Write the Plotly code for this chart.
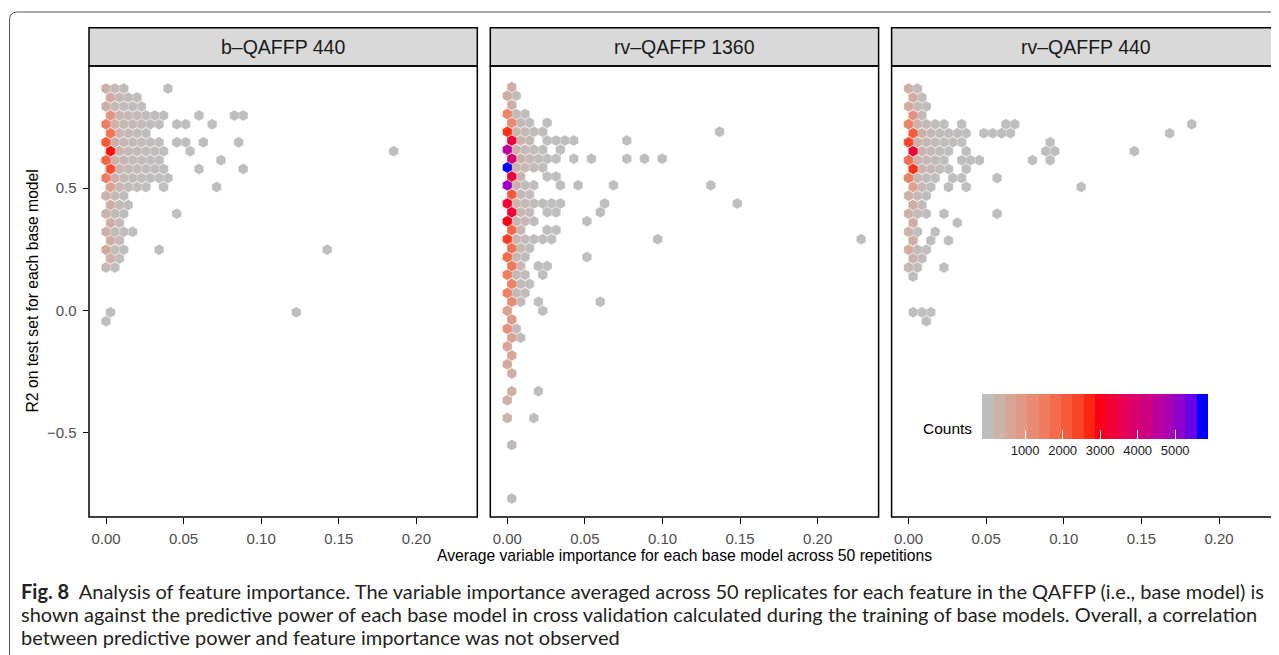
import plotly.graph_objects as go

W, H = 1279, 655
PAGE_OFF = 8          # default page body margin of the html page
FIG_W, FIG_H = W - PAGE_OFF, H - PAGE_OFF

# ---------------- data (hexbin cells: centre x, centre y, count) ----------------
PANELS = ["b\u2013QAFFP 440", "rv\u2013QAFFP 1360", "rv\u2013QAFFP 440"]

P1_Y = [0.907, 0.870, 0.834, 0.797, 0.761, 0.724, 0.687, 0.651, 0.614, 0.578, 0.541, 0.504,
        0.468, 0.431, 0.395, 0.358, 0.321, 0.285, 0.248, 0.212, 0.175, -0.008, -0.045]
P1_X = [
    [0.0, 0.0057, 0.0114, 0.0399],
    [0.0029, 0.0086, 0.0143, 0.0200],
    [0.0, 0.0057, 0.0114, 0.0171, 0.0228],
    [0.0029, 0.0086, 0.0143, 0.0200, 0.0257, 0.0314, 0.0371, 0.0599, 0.0827, 0.0884],
    [0.0, 0.0057, 0.0114, 0.0171, 0.0228, 0.0285, 0.0342, 0.0456, 0.0513, 0.0684],
    [0.0029, 0.0086, 0.0143, 0.0200, 0.0257],
    [0.0, 0.0057, 0.0114, 0.0171, 0.0228, 0.0285, 0.0342, 0.0456, 0.0513, 0.0627, 0.0855],
    [0.0029, 0.0086, 0.0143, 0.0200, 0.0257, 0.0314, 0.0371, 0.0542, 0.1853],
    [0.0, 0.0057, 0.0114, 0.0171, 0.0228, 0.0285, 0.0342, 0.0741],
    [0.0029, 0.0086, 0.0143, 0.0200, 0.0257, 0.0314, 0.0371, 0.0599, 0.0884],
    [0.0, 0.0057, 0.0114, 0.0171, 0.0228, 0.0285, 0.0342, 0.0399],
    [0.0029, 0.0086, 0.0143, 0.0200, 0.0257, 0.0371, 0.0713],
    [0.0, 0.0057, 0.0114],
    [0.0029, 0.0086, 0.0143],
    [0.0, 0.0057, 0.0114, 0.0456],
    [0.0029, 0.0086],
    [0.0, 0.0057, 0.0114, 0.0171],
    [0.0029, 0.0086],
    [0.0, 0.0057, 0.0114, 0.0342, 0.1425],
    [0.0029, 0.0086],
    [0.0, 0.0057],
    [0.0029, 0.1226],
    [0.0],
]
P1_N = [
    [320, 90, 40, 2],
    [450, 90, 60, 25],
    [380, 120, 70, 40, 15],
    [1000, 200, 110, 70, 40, 20, 10, 2, 2, 1],
    [1450, 320, 150, 90, 60, 30, 15, 3, 2, 1],
    [1650, 200, 130, 80, 40],
    [2150, 350, 160, 100, 60, 35, 20, 3, 2, 1, 1],
    [2800, 250, 150, 90, 60, 30, 15, 2, 1],
    [1950, 330, 160, 100, 60, 35, 15, 1],
    [2300, 230, 140, 80, 50, 30, 15, 2, 1],
    [1500, 300, 140, 90, 50, 30, 15, 5],
    [700, 150, 80, 40, 20, 3, 1],
    [320, 100, 40],
    [420, 80, 30],
    [330, 90, 30, 1],
    [400, 60],
    [300, 80, 30, 5],
    [420, 60],
    [520, 70, 30, 2, 1],
    [320, 40],
    [150, 30],
    [20, 1],
    [15],
]

P2_Y = [0.913, 0.877, 0.840, 0.803, 0.767, 0.730, 0.694, 0.657, 0.620, 0.584, 0.547, 0.511,
        0.474, 0.437, 0.401, 0.364, 0.328, 0.291, 0.254, 0.218, 0.181, 0.145, 0.108, 0.071,
        0.035, -0.002, -0.038, -0.075, -0.112, -0.148, -0.185, -0.221, -0.258, -0.331,
        -0.368, -0.441, -0.551, -0.770]
P2_X = [
    [0.0029],
    [0.0, 0.0057],
    [0.0029],
    [0.0, 0.0057, 0.0114],
    [0.0029, 0.0086, 0.0143, 0.0257],
    [0.0, 0.0057, 0.0114, 0.0171, 0.0228, 0.1368],
    [0.0029, 0.0086, 0.0143, 0.0257, 0.0314, 0.0371, 0.0428, 0.0770],
    [0.0, 0.0057, 0.0114, 0.0171, 0.0228, 0.0342],
    [0.0029, 0.0086, 0.0143, 0.0200, 0.0257, 0.0314, 0.0428, 0.0542, 0.0770, 0.0884, 0.0998],
    [0.0, 0.0057, 0.0114, 0.0171, 0.0228],
    [0.0029, 0.0086, 0.0257, 0.0314],
    [0.0, 0.0057, 0.0114, 0.0171, 0.0342, 0.0456, 0.0684, 0.1311],
    [0.0029, 0.0086, 0.0143],
    [0.0, 0.0057, 0.0114, 0.0171, 0.0228, 0.0285, 0.0342, 0.0627, 0.1482],
    [0.0029, 0.0086, 0.0143, 0.0257, 0.0314, 0.0599],
    [0.0, 0.0057, 0.0114, 0.0171, 0.0513],
    [0.0029, 0.0086, 0.0257, 0.0314],
    [0.0, 0.0057, 0.0114, 0.0171, 0.0228, 0.0285, 0.0969, 0.2280],
    [0.0029, 0.0086, 0.0143],
    [0.0, 0.0057, 0.0114, 0.0513],
    [0.0029, 0.0086, 0.0200, 0.0257],
    [0.0, 0.0057, 0.0114, 0.0228],
    [0.0029, 0.0086, 0.0143],
    [0.0, 0.0057, 0.0114],
    [0.0029, 0.0086, 0.0200, 0.0599],
    [0.0, 0.0228],
    [0.0029],
    [0.0, 0.0057],
    [0.0029, 0.0086],
    [0.0],
    [0.0029],
    [0.0],
    [0.0029],
    [0.0029, 0.0200],
    [0.0],
    [0.0, 0.0171],
    [0.0029],
    [0.0029],
]
P2_N = [
    [350],
    [400, 80],
    [350],
    [1300, 150, 60],
    [1200, 120, 50, 5],
    [2600, 250, 120, 60, 20, 1],
    [3300, 250, 100, 20, 8, 4, 2, 1],
    [4600, 300, 150, 70, 30, 5],
    [4000, 280, 130, 60, 30, 10, 3, 2, 1, 1, 1],
    [5726, 320, 140, 70, 25],
    [3300, 220, 10, 5],
    [5000, 280, 120, 50, 4, 2, 1, 1],
    [2100, 180, 70],
    [3200, 250, 120, 60, 30, 15, 6, 1, 1],
    [3300, 200, 80, 15, 6, 1],
    [3000, 220, 100, 40, 2],
    [1900, 160, 10, 5],
    [2500, 220, 100, 50, 20, 8, 1, 1],
    [1700, 150, 60],
    [1800, 160, 70, 1],
    [1600, 120, 10, 5],
    [1500, 120, 50, 5],
    [1400, 100, 40],
    [1400, 100, 40],
    [1200, 80, 5, 1],
    [700, 3],
    [900],
    [1100, 60],
    [700, 40],
    [600],
    [600],
    [500],
    [400],
    [350, 2],
    [300],
    [250, 2],
    [100],
    [50],
]

P3_Y = [0.907, 0.870, 0.834, 0.797, 0.761, 0.724, 0.687, 0.651, 0.614, 0.578, 0.541, 0.504,
        0.468, 0.431, 0.395, 0.358, 0.321, 0.285, 0.248, 0.212, 0.175, 0.138, -0.008, -0.045]
P3_X = [
    [0.0, 0.0057],
    [0.0029, 0.0086],
    [0.0, 0.0057, 0.0114],
    [0.0029, 0.0086],
    [0.0, 0.0057, 0.0114, 0.0171, 0.0228, 0.0342, 0.0627, 0.0684, 0.1824],
    [0.0029, 0.0086, 0.0143, 0.0200, 0.0257, 0.0314, 0.0371, 0.0485, 0.0542, 0.0599, 0.0656, 0.1682],
    [0.0, 0.0057, 0.0114, 0.0171, 0.0228, 0.0285, 0.0342, 0.0912],
    [0.0029, 0.0086, 0.0143, 0.0200, 0.0257, 0.0371, 0.0884, 0.0941, 0.1454],
    [0.0, 0.0057, 0.0114, 0.0171, 0.0228, 0.0342, 0.0399, 0.0456, 0.0798, 0.0912],
    [0.0029, 0.0086, 0.0143, 0.0200, 0.0257, 0.0371],
    [0.0, 0.0057, 0.0114, 0.0171, 0.0285, 0.0342, 0.0570],
    [0.0029, 0.0086, 0.0143, 0.0257, 0.0371, 0.1112],
    [0.0, 0.0057, 0.0114],
    [0.0029, 0.0086],
    [0.0, 0.0057, 0.0114, 0.0228, 0.0570],
    [0.0029, 0.0314],
    [0.0, 0.0057, 0.0171],
    [0.0029, 0.0143, 0.0257],
    [0.0, 0.0057, 0.0114],
    [0.0029, 0.0086],
    [0.0, 0.0057, 0.0228],
    [0.0029],
    [0.0029, 0.0086, 0.0143],
    [0.0114],
]
P3_N = [
    [300, 60],
    [420, 80],
    [500, 110, 40],
    [1000, 150],
    [1350, 220, 120, 60, 30, 8, 2, 1, 1],
    [2100, 300, 150, 90, 50, 25, 10, 3, 2, 2, 1, 1],
    [2400, 330, 160, 100, 60, 30, 15, 2],
    [3300, 280, 150, 90, 50, 10, 2, 1, 1],
    [1750, 300, 150, 90, 40, 8, 5, 3, 1, 1],
    [2600, 220, 120, 70, 30, 5],
    [1400, 200, 90, 40, 10, 5, 1],
    [700, 120, 50, 8, 3, 1],
    [330, 90, 30],
    [450, 60],
    [330, 70, 20, 4, 1],
    [380, 2],
    [300, 50, 5],
    [400, 8, 3],
    [520, 60, 20],
    [280, 40],
    [150, 40, 2],
    [60],
    [10, 5, 3],
    [3],
]

COUNT_MIN, COUNT_MAX = 1, 5726
CB_TICKS = [1000, 2000, 3000, 4000, 5000]
X_TICKS = [0.0, 0.05, 0.10, 0.15, 0.20]
Y_TICKS = [-0.5, 0.0, 0.5]

CAPTION = [
    "<b>Fig. 8</b>\u00a0\u00a0Analysis of feature importance. The variable importance averaged across 50 replicates for each feature in the QAFFP (i.e., base model) is",
    "shown against the predictive power of each base model in cross validation calculated during the training of base models. Overall, a correlation",
    "between predictive power and feature importance was not observed",
]

# ---------------- colour ramp (grey -> red -> blue, CIELAB interpolation) ----------------
def _lin(c):
    c = c / 255.0
    return c / 12.92 if c <= 0.04045 else ((c + 0.055) / 1.055) ** 2.4

def _gam(c):
    c = 12.92 * c if c <= 0.0031308 else 1.055 * c ** (1 / 2.4) - 0.055
    return int(round(min(max(c, 0.0), 1.0) * 255))

WHITE = (0.95047, 1.0, 1.08883)

def to_lab(rgb):
    r, g, b = (_lin(v) for v in rgb)
    X = (0.4124564 * r + 0.3575761 * g + 0.1804375 * b) / WHITE[0]
    Y = (0.2126729 * r + 0.7151522 * g + 0.0721750 * b) / WHITE[1]
    Z = (0.0193339 * r + 0.1191920 * g + 0.9503041 * b) / WHITE[2]
    d = 6 / 29
    f = lambda t: t ** (1 / 3) if t > d ** 3 else t / (3 * d * d) + 4 / 29
    fx, fy, fz = f(X), f(Y), f(Z)
    return (116 * fy - 16, 500 * (fx - fy), 200 * (fy - fz))

def from_lab(lab):
    L, a, b = lab
    d = 6 / 29
    fy = (L + 16) / 116
    fx = fy + a / 500
    fz = fy - b / 200
    fi = lambda t: t ** 3 if t > d else 3 * d * d * (t - 4 / 29)
    X, Y, Z = WHITE[0] * fi(fx), WHITE[1] * fi(fy), WHITE[2] * fi(fz)
    r = 3.2404542 * X - 1.5371385 * Y - 0.4985314 * Z
    g = -0.9692660 * X + 1.8760108 * Y + 0.0415560 * Z
    bb = 0.0556434 * X - 0.2040259 * Y + 1.0572252 * Z
    return (_gam(r), _gam(g), _gam(bb))

GREY, RED, BLUE = (190, 190, 190), (255, 0, 0), (0, 0, 255)

def ramp(t):
    if t <= 0.5:
        a, b, s = GREY, RED, t / 0.5
    else:
        a, b, s = RED, BLUE, (t - 0.5) / 0.5
    la, lb = to_lab(a), to_lab(b)
    r, g, bb = from_lab(tuple(la[i] + (lb[i] - la[i]) * s for i in range(3)))
    return f"rgb({r},{g},{bb})"

SMOOTH = [[i / 40, ramp(i / 40)] for i in range(41)]
NBIN = 20
STEPPED = []
for i in range(NBIN):
    col = ramp(i / (NBIN - 1))
    STEPPED.append([i / NBIN, col])
    STEPPED.append([(i + 1) / NBIN, col])
binw = (COUNT_MAX - COUNT_MIN) / (NBIN - 1)

# ---------------- layout geometry (page pixels) ----------------
def px(x):
    return (x - PAGE_OFF) / FIG_W

def py(y):
    return 1 - (y - PAGE_OFF) / FIG_H

PANEL_L = [89.0, 490.3, 891.6]
PANEL_W = 388.3
PANEL_TOP, PANEL_BOT = 66.0, 517.0
STRIP_TOP = 27.7
XPX = 1552.0      # pixels per x unit
X0_OFF = 17.0     # pixels from panel left to x = 0
YPX = 244.5
Y0_PIX = 310.3

fig = go.Figure()

datasets = [(P1_X, P1_Y, P1_N), (P2_X, P2_Y, P2_N), (P3_X, P3_Y, P3_N)]
for k, (RX, RY, RN) in enumerate(datasets):
    xs, ys, ns = [], [], []
    for yv, row_x, row_n in zip(RY, RX, RN):
        for xv, nv in zip(row_x, row_n):
            xs.append(xv); ys.append(yv); ns.append(nv)
    order = sorted(range(len(ns)), key=lambda i: ns[i])
    xs = [xs[i] for i in order]; ys = [ys[i] for i in order]; ns = [ns[i] for i in order]
    ax = "" if k == 0 else str(k + 1)
    fig.add_trace(go.Scatter(
        x=xs, y=ys, mode="markers", xaxis="x" + ax, yaxis="y" + ax,
        marker=dict(symbol="hexagon", size=11, color=ns, colorscale=SMOOTH,
                    cmin=COUNT_MIN, cmax=COUNT_MAX, showscale=False,
                    line=dict(width=0.4, color="rgba(255,255,255,0.7)")),
        hoverinfo="skip", showlegend=False))

# legend helper (invisible point carrying the binned colour bar)
fig.add_trace(go.Scatter(
    x=[P3_X[0][0]], y=[P3_Y[0]], mode="markers", xaxis="x3", yaxis="y3",
    marker=dict(size=1, opacity=0, color=[COUNT_MIN], colorscale=STEPPED,
                cmin=COUNT_MIN - binw / 2, cmax=COUNT_MAX + binw / 2, showscale=True,
                colorbar=dict(orientation="h", x=px(1095), xanchor="center",
                              y=py(394), yanchor="top", len=226, lenmode="pixels",
                              thickness=45, thicknessmode="pixels", xpad=0, ypad=0,
                              outlinewidth=0, tickvals=CB_TICKS,
                              ticktext=[str(v) for v in CB_TICKS],
                              ticks="inside", ticklen=9, tickwidth=1.2, tickcolor="white",
                              tickfont=dict(family="Liberation Sans", size=13, color="#1a1a1a"))),
    hoverinfo="skip", showlegend=False))

font_tick = dict(family="Liberation Sans", size=15, color="#4D4D4D")
layout = dict(width=FIG_W, height=FIG_H, margin=dict(l=0, r=0, t=0, b=0),
              paper_bgcolor="white", plot_bgcolor="white", hovermode=False,
              showlegend=False)
shapes = []
annotations = []
for k in range(3):
    left = PANEL_L[k]
    right = left + PANEL_W
    vis_right = min(right, W)
    xr0 = -X0_OFF / XPX
    xr1 = xr0 + (vis_right - left) / XPX
    ax = "" if k == 0 else str(k + 1)
    layout["xaxis" + ax] = dict(
        domain=[px(left), min(px(vis_right), 1.0)], range=[xr0, xr1], anchor="y" + ax,
        tickvals=X_TICKS, ticktext=[f"{v:.2f}" for v in X_TICKS],
        ticks="outside", ticklen=5.5, tickwidth=1.4, tickcolor="black",
        tickfont=font_tick, showgrid=False, zeroline=False, showline=False,
        ticklabelstandoff=2)
    layout["yaxis" + ax] = dict(
        domain=[py(PANEL_BOT), py(PANEL_TOP)],
        range=[(Y0_PIX - PANEL_BOT) / YPX, (Y0_PIX - PANEL_TOP) / YPX],
        anchor="x" + ax, tickvals=Y_TICKS,
        ticktext=["\u22120.5", "0.0", "0.5"],
        ticks="outside" if k == 0 else "", showticklabels=(k == 0),
        ticklen=5.5, tickwidth=1.4, tickcolor="black", tickfont=font_tick,
        showgrid=False, zeroline=False, showline=False, ticklabelstandoff=3)
    # strip
    shapes.append(dict(type="rect", xref="paper", yref="paper",
                       x0=px(left), x1=px(right), y0=py(PANEL_TOP), y1=py(STRIP_TOP),
                       fillcolor="#D9D9D9", line=dict(color="black", width=1.5), layer="below"))
    # panel border
    shapes.append(dict(type="rect", xref="paper", yref="paper",
                       x0=px(left), x1=px(right), y0=py(PANEL_BOT), y1=py(PANEL_TOP),
                       line=dict(color="black", width=1.5), fillcolor="rgba(0,0,0,0)",
                       layer="above"))
    annotations.append(dict(text=PANELS[k], xref="paper", yref="paper",
                            x=px(left + PANEL_W / 2), y=py((STRIP_TOP + PANEL_TOP) / 2),
                            xanchor="center", yanchor="middle", showarrow=False,
                            font=dict(family="Liberation Sans", size=19.5, color="#1A1A1A")))

# axis titles
annotations.append(dict(text="Average variable importance for each base model across 50 repetitions",
                        xref="paper", yref="paper", x=px(684.5), y=py(555),
                        xanchor="center", yanchor="middle", showarrow=False,
                        font=dict(family="Liberation Sans", size=15.7, color="black")))
annotations.append(dict(text="R2 on test set for each base model", textangle=-90,
                        xref="paper", yref="paper", x=px(32), y=py(291.5),
                        xanchor="center", yanchor="middle", showarrow=False,
                        font=dict(family="Liberation Sans", size=15.7, color="black")))
annotations.append(dict(text="Counts", xref="paper", yref="paper", x=px(974), y=py(428),
                        xanchor="right", yanchor="middle", showarrow=False,
                        font=dict(family="Liberation Sans", size=15.5, color="black")))

# caption
for i, line in enumerate(CAPTION):
    annotations.append(dict(text=line, xref="paper", yref="paper", x=px(19), y=py(591 + 23 * i),
                            xanchor="left", yanchor="middle", showarrow=False,
                            font=dict(family="Lato", size=20, color="#231F20")))

# figure box (rounded corner)
shapes.append(dict(type="path", xref="paper", yref="paper",
                   path=f"M {px(9.5)},{py(660)} L {px(9.5)},{py(20)} Q {px(9.5)},{py(12)} {px(17.5)},{py(12)} L {px(1285)},{py(12)}",
                   line=dict(color="#555555", width=1)))

layout["shapes"] = shapes
layout["annotations"] = annotations
fig.update_layout(**layout)
fig.write_html("out.html")
